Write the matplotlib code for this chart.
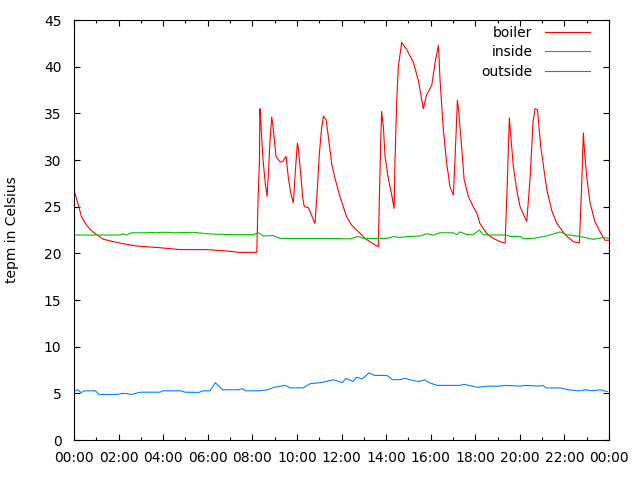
import matplotlib
matplotlib.use("Agg")
import matplotlib.pyplot as plt

# ---- data (hours since midnight, degrees C) ----
boiler_t = [0.0, 0.05, 0.19, 0.34, 0.57, 0.79, 1.02, 1.32, 2.06, 2.74, 3.86, 4.76, 5.95, 6.85, 7.45, 8.2,
            8.26, 8.32, 8.34, 8.38, 8.48, 8.58, 8.66, 8.72, 8.79, 8.87, 8.92, 9.06, 9.24, 9.36, 9.51,
            9.62, 9.72, 9.84, 9.92, 10.02, 10.06, 10.17, 10.26, 10.33, 10.51, 10.62, 10.81, 10.92,
            11.0, 11.11, 11.19, 11.31, 11.41, 11.56, 11.71, 11.93, 12.23, 12.46, 12.68, 13.06, 13.36,
            13.65, 13.7, 13.76, 13.8, 13.88, 13.95, 14.1, 14.25, 14.36, 14.4, 14.48, 14.55, 14.7,
            14.93, 15.22, 15.45, 15.67, 15.82, 16.05, 16.2, 16.35, 16.42, 16.57, 16.72, 16.87, 17.02,
            17.09, 17.2, 17.26, 17.39, 17.5, 17.69, 17.91, 18.07, 18.21, 18.52, 18.81, 19.11, 19.34,
            19.43, 19.53, 19.58, 19.71, 19.86, 20.01, 20.31, 20.46, 20.59, 20.68, 20.79, 20.94, 21.21,
            21.43, 21.66, 22.03, 22.4, 22.67, 22.77, 22.85, 22.9, 23.0, 23.15, 23.37, 23.6, 23.82, 24.0]
boiler_v = [26.6, 26.4, 25.2, 23.9, 23.0, 22.4, 22.0, 21.5, 21.1, 20.8, 20.6, 20.4, 20.4, 20.25, 20.1, 20.1,
            26.0, 30.0, 35.5, 34.0, 30.0, 27.5, 26.1, 28.5, 32.0, 34.6, 33.8, 30.4, 29.8, 29.8, 30.4,
            28.0, 26.5, 25.4, 28.5, 31.8, 31.3, 28.5, 26.0, 25.0, 24.9, 24.3, 23.2, 27.0,
            30.5, 33.5, 34.7, 34.3, 32.5, 29.6, 28.0, 26.1, 23.9, 23.0, 22.5, 21.6, 21.1,
            20.7, 26.0, 32.0, 35.2, 33.5, 30.5, 28.0, 26.3, 24.8, 30.0, 36.5, 40.0, 42.6,
            41.8, 40.5, 38.5, 35.5, 37.0, 38.0, 40.5, 42.3, 38.6, 33.2, 29.6, 27.1, 26.25,
            30.0, 36.4, 35.2, 31.4, 27.9, 26.1, 25.0, 24.3, 23.2, 22.1, 21.6, 21.25, 21.1,
            27.0, 34.5, 33.0, 29.3, 26.8, 25.0, 23.4, 28.0, 34.0, 35.5, 35.4, 31.4, 26.8,
            24.6, 23.2, 22.0, 21.25, 21.1, 27.0, 32.9, 31.0, 28.2, 25.4, 23.4, 22.3, 21.4, 21.4]

inside_t = [0.0, 2.06, 2.21, 2.36, 2.59, 3.26, 3.41, 3.71, 3.86, 4.31, 4.46, 5.35, 5.95, 6.4, 7.15, 8.04,
            8.27, 8.49, 8.94, 9.24, 11.48, 12.38, 12.76, 12.98, 14.03, 14.33, 14.63, 14.93, 15.52,
            15.82, 16.12, 16.42, 17.02, 17.17, 17.32, 17.62, 17.91, 18.18, 18.36, 18.66, 19.41, 19.56,
            20.01, 20.16, 20.61, 21.21, 21.8, 22.1, 22.7, 23.3, 23.75, 24.0]
inside_v = [21.96, 21.96, 22.1, 21.96, 22.2, 22.2, 22.25, 22.2, 22.25, 22.25, 22.2, 22.25, 22.1, 22.05, 22.0, 22.0,
            22.2, 21.86, 21.9, 21.6, 21.6, 21.55, 21.8, 21.6, 21.6, 21.8, 21.7, 21.8, 21.86,
            22.1, 21.95, 22.2, 22.2, 22.0, 22.3, 22.0, 22.0, 22.5, 22.0, 21.96, 21.96, 21.8,
            21.8, 21.6, 21.6, 21.86, 22.3, 22.0, 21.8, 21.5, 21.7, 21.6]

outside_t = [0.0, 0.16, 0.32, 0.48, 0.96, 1.12, 1.93, 2.17, 2.4, 2.57, 2.97, 3.85, 4.0, 4.8, 4.98, 5.6,
             5.78, 6.1, 6.34, 6.66, 7.38, 7.54, 7.7, 8.35, 8.67, 8.99, 9.47, 9.71, 10.27, 10.6, 11.08,
             11.64, 12.04, 12.2, 12.52, 12.68, 12.92, 13.24, 13.48, 14.04, 14.29, 14.6, 14.85, 15.25,
             15.49, 15.73, 15.97, 16.3, 17.3, 17.5, 18.1, 18.6, 19.1, 19.34, 20.06, 20.2, 20.87, 21.03,
             21.19, 21.83, 22.15, 22.63, 22.95, 23.27, 23.6, 23.92]
outside_v = [5.19, 5.38, 5.08, 5.27, 5.27, 4.88, 4.88, 5.0, 4.95, 4.88, 5.12, 5.12, 5.27, 5.27, 5.12, 5.1,
             5.27, 5.27, 6.15, 5.38, 5.38, 5.5, 5.27, 5.27, 5.38, 5.65, 5.85, 5.58, 5.58, 6.04, 6.15,
             6.46, 6.15, 6.6, 6.27, 6.73, 6.54, 7.19, 6.92, 6.92, 6.46, 6.46, 6.6, 6.35,
             6.27, 6.45, 6.1, 5.85, 5.85, 5.96, 5.65, 5.77, 5.77, 5.85, 5.77, 5.85, 5.77, 5.85,
             5.58, 5.58, 5.38, 5.27, 5.38, 5.27, 5.38, 5.19]

xtick_pos = list(range(0, 25, 2))
xtick_labels = ["%02d:00" % (h % 24) for h in xtick_pos]
ytick_pos = list(range(0, 46, 5))

plt.rcParams['font.family'] = ['DejaVu Sans']
plt.rcParams['font.size'] = 10

fig = plt.figure(figsize=(6.4, 4.8), dpi=100)
ax = fig.add_axes([74/640, 40/480, 535/640, 420/480])

lw = 0.8
colors = ['#ff0000', '#00c000', '#0080ff']
ax.plot(boiler_t, boiler_v, color=colors[0], lw=lw, label='boiler')
ax.plot(inside_t, inside_v, color=colors[1], lw=lw, label='inside')
ax.plot(outside_t, outside_v, color=colors[2], lw=lw, label='outside')

ax.set_xlim(0, 24)
ax.set_ylim(0, 45)
ax.set_xticks(xtick_pos)
ax.set_xticklabels(xtick_labels)
ax.set_xticks(list(range(1, 24, 2)), minor=True)
ax.set_yticks(ytick_pos)
ax.tick_params(axis='both', which='major', direction='in', length=4.5, width=0.8,
               top=True, right=True, colors='black')
ax.tick_params(axis='x', which='major', pad=8)
ax.tick_params(axis='y', which='major', pad=9)
ax.tick_params(axis='x', which='minor', direction='in', length=2.2, width=0.8, top=True, bottom=True)
for s in ax.spines.values():
    s.set_linewidth(0.8)

ax.set_ylabel('tepm in Celsius')
ax.yaxis.set_label_coords(-0.103, 0.5)

leg = ax.legend(loc='upper right', bbox_to_anchor=((590-74)/535, (440-26)/420),
                frameon=False, markerfirst=False, handlelength=3.25, handletextpad=0.9,
                labelspacing=0.38, borderpad=0, borderaxespad=0)

fig.savefig('out.png', dpi=100)
